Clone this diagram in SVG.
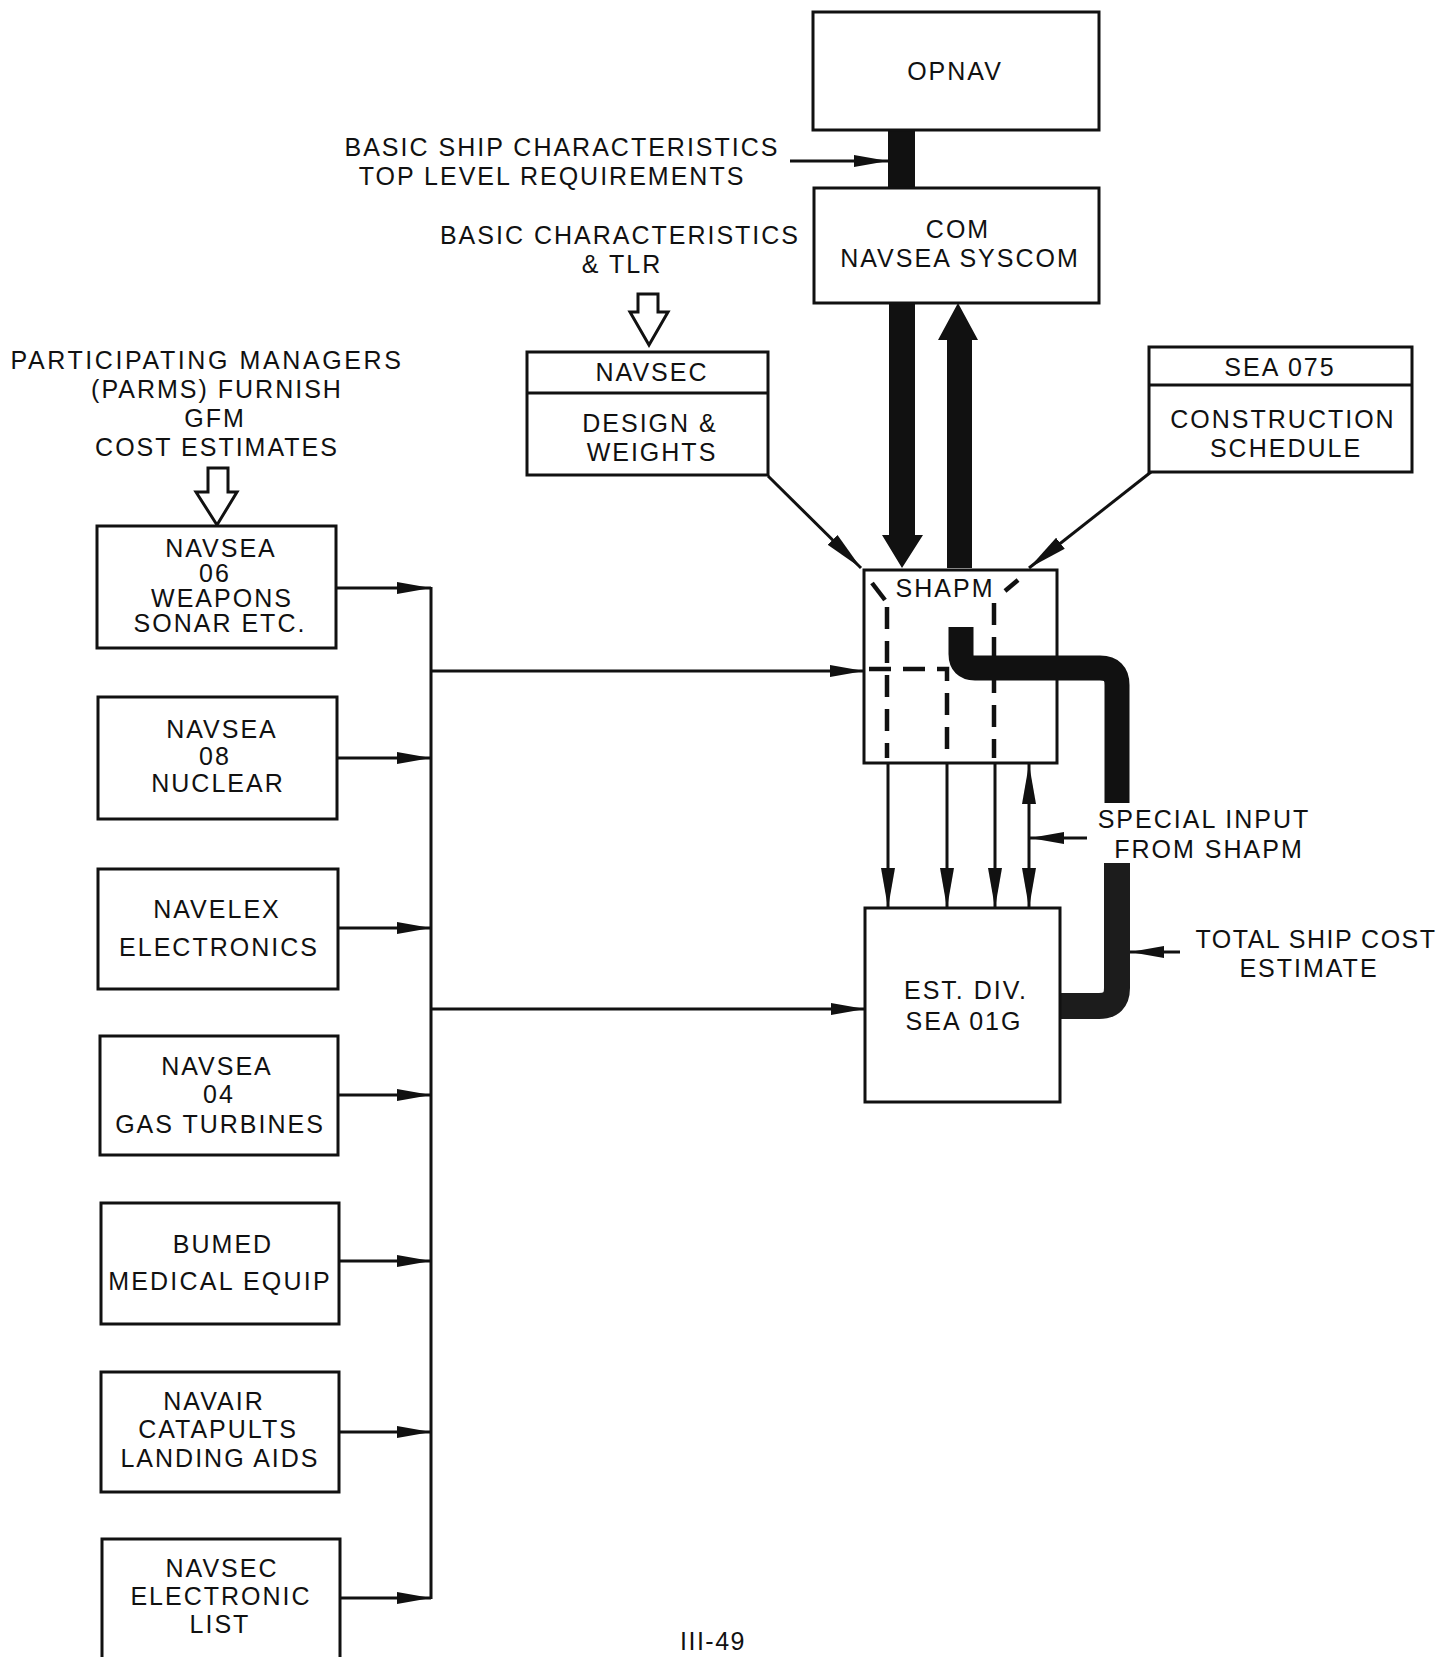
<svg xmlns="http://www.w3.org/2000/svg" width="1446" height="1657" viewBox="0 0 1446 1657">
<style>
.box{fill:#fff;stroke:#111;stroke-width:3}
.t{font-family:"Liberation Sans",Arial,sans-serif;font-size:25px;letter-spacing:2px;fill:#111;text-anchor:middle}
.ln{stroke:#111;stroke-width:3;fill:none}
.dash{stroke:#111;stroke-width:4.5;fill:none;stroke-dasharray:22 12}
.solid{fill:#111;stroke:none}
.hollow{fill:#fff;stroke:#111;stroke-width:3;stroke-linejoin:miter}
</style>
<defs>
<marker id="ah" markerUnits="userSpaceOnUse" markerWidth="36" markerHeight="14" refX="34" refY="7" orient="auto">
<path d="M0,1 L34,7 L0,13 Z" fill="#111"/>
</marker>
<marker id="ahv" markerUnits="userSpaceOnUse" markerWidth="42" markerHeight="16" refX="40" refY="8" orient="auto">
<path d="M0,1 L40,8 L0,15 Z" fill="#111"/>
</marker>
<marker id="ahs" markerUnits="userSpaceOnUse" markerWidth="42" markerHeight="16" refX="40" refY="8" orient="auto-start-reverse">
<path d="M0,1 L40,8 L0,15 Z" fill="#111"/>
</marker>
</defs>
<rect width="1446" height="1657" fill="#fff"/>

<g id="connectors">
  <rect class="solid" x="888" y="129" width="27" height="60"/>
  <line class="ln" x1="790" y1="161" x2="888" y2="161" marker-end="url(#ah)"/>
  <polygon class="solid" points="889,303 915,303 915,535 923,535 902,568 882,535 889,535"/>
  <polygon class="solid" points="947,568 972,568 972,340 978,340 958,303 938,340 947,340"/>
  <polygon class="hollow" points="638,294 658,294 658,312 668,312 649,345 630,312 638,312"/>
  <polygon class="hollow" points="208,468 228,468 228,492 237,492 217,525 196,492 208,492"/>
  <line class="ln" x1="768" y1="476" x2="861" y2="568" marker-end="url(#ahv)"/>
  <line class="ln" x1="1151" y1="472" x2="1029" y2="568" marker-end="url(#ahv)"/>
  <line class="ln" x1="431" y1="587" x2="431" y2="1599"/>
  <line class="ln" x1="336" y1="588" x2="431" y2="588" marker-end="url(#ah)"/>
  <line class="ln" x1="337" y1="758" x2="431" y2="758" marker-end="url(#ah)"/>
  <line class="ln" x1="338" y1="928" x2="431" y2="928" marker-end="url(#ah)"/>
  <line class="ln" x1="338" y1="1095" x2="431" y2="1095" marker-end="url(#ah)"/>
  <line class="ln" x1="339" y1="1261" x2="431" y2="1261" marker-end="url(#ah)"/>
  <line class="ln" x1="339" y1="1432" x2="431" y2="1432" marker-end="url(#ah)"/>
  <line class="ln" x1="340" y1="1598" x2="431" y2="1598" marker-end="url(#ah)"/>
  <line class="ln" x1="431" y1="671" x2="864" y2="671" marker-end="url(#ah)"/>
  <line class="ln" x1="431" y1="1009" x2="865" y2="1009" marker-end="url(#ah)"/>
  <line class="ln" x1="888" y1="763" x2="888" y2="908" marker-end="url(#ahv)"/>
  <line class="ln" x1="947" y1="763" x2="947" y2="908" marker-end="url(#ahv)"/>
  <line class="ln" x1="995" y1="763" x2="995" y2="908" marker-end="url(#ahv)"/>
  <line class="ln" x1="1029" y1="764" x2="1029" y2="908" marker-start="url(#ahs)" marker-end="url(#ahv)"/>
  <line class="ln" x1="1087" y1="838" x2="1030" y2="838" marker-end="url(#ah)"/>
  <line class="ln" x1="1180" y1="952" x2="1130" y2="952" marker-end="url(#ah)"/>
</g>

<g id="opnav">
  <rect class="box" x="813" y="12" width="286" height="118"/>
  <text class="t" x="955" y="80">OPNAV</text>
</g>
<g id="com-navsea">
  <rect class="box" x="814" y="188" width="285" height="115"/>
  <text class="t" x="958" y="238">COM</text>
  <text class="t" x="960" y="267">NAVSEA SYSCOM</text>
</g>
<g id="label-basic-ship">
  <text class="t" x="562" y="156">BASIC SHIP CHARACTERISTICS</text>
  <text class="t" x="552" y="185">TOP LEVEL REQUIREMENTS</text>
</g>
<g id="label-basic-char">
  <text class="t" x="620" y="244">BASIC CHARACTERISTICS</text>
  <text class="t" x="622" y="273">&amp; TLR</text>
</g>
<g id="navsec-design">
  <rect class="box" x="527" y="352" width="241" height="123"/>
  <line class="ln" x1="527" y1="393" x2="768" y2="393"/>
  <text class="t" x="652" y="381">NAVSEC</text>
  <text class="t" x="650" y="432">DESIGN &amp;</text>
  <text class="t" x="652" y="461">WEIGHTS</text>
</g>
<g id="sea075">
  <rect class="box" x="1149" y="347" width="263" height="125"/>
  <line class="ln" x1="1149" y1="385" x2="1412" y2="385"/>
  <text class="t" x="1280" y="376">SEA 075</text>
  <text class="t" x="1283" y="428">CONSTRUCTION</text>
  <text class="t" x="1286" y="457">SCHEDULE</text>
</g>
<g id="label-parms">
  <text class="t" x="207" y="369" style="letter-spacing:2.6px">PARTICIPATING MANAGERS</text>
  <text class="t" x="217" y="398">(PARMS) FURNISH</text>
  <text class="t" x="215" y="427">GFM</text>
  <text class="t" x="217" y="456">COST ESTIMATES</text>
</g>
<g id="shapm">
  <rect class="box" x="864" y="570" width="193" height="193"/>
  <text class="t" x="945" y="597">SHAPM</text>
  <line x1="872" y1="583" x2="885" y2="600" stroke="#111" stroke-width="4.5"/>
  <line x1="1005" y1="591" x2="1018" y2="580" stroke="#111" stroke-width="4.5"/>
  <path class="dash" d="M887,607 V758"/>
  <path class="dash" d="M869,669 H947 V758"/>
  <path class="dash" d="M994,603 V758"/>
</g>
<g id="special-input">
  <path d="M961,627 V654 Q961,668 975,668 H1100 Q1117,668 1117,685 V803" fill="none" stroke="#111" stroke-width="25"/>
  <text class="t" x="1204" y="828">SPECIAL INPUT</text>
  <text class="t" x="1209" y="858">FROM SHAPM</text>
  <path d="M1117,863 V988 Q1117,1006 1099,1006 H1058" fill="none" stroke="#1c1c1c" stroke-width="26"/>
</g>
<g id="est-div">
  <rect class="box" x="865" y="908" width="195" height="194"/>
  <text class="t" x="966" y="999">EST. DIV.</text>
  <text class="t" x="964" y="1030">SEA 01G</text>
</g>
<g id="label-total">
  <text class="t" x="1316" y="948" style="letter-spacing:1.5px">TOTAL SHIP COST</text>
  <text class="t" x="1309" y="977">ESTIMATE</text>
</g>
<g id="navsea06">
  <rect class="box" x="97" y="526" width="239" height="122"/>
  <text class="t" x="221" y="557">NAVSEA</text>
  <text class="t" x="215" y="582">06</text>
  <text class="t" x="222" y="607">WEAPONS</text>
  <text class="t" x="220" y="632">SONAR ETC.</text>
</g>
<g id="navsea08">
  <rect class="box" x="98" y="697" width="239" height="122"/>
  <text class="t" x="222" y="738">NAVSEA</text>
  <text class="t" x="215" y="765">08</text>
  <text class="t" x="218" y="792">NUCLEAR</text>
</g>
<g id="navelex">
  <rect class="box" x="98" y="869" width="240" height="120"/>
  <text class="t" x="217" y="918">NAVELEX</text>
  <text class="t" x="219" y="956">ELECTRONICS</text>
</g>
<g id="navsea04">
  <rect class="box" x="100" y="1036" width="238" height="119"/>
  <text class="t" x="217" y="1075">NAVSEA</text>
  <text class="t" x="219" y="1103">04</text>
  <text class="t" x="220" y="1133">GAS TURBINES</text>
</g>
<g id="bumed">
  <rect class="box" x="101" y="1203" width="238" height="121"/>
  <text class="t" x="223" y="1253">BUMED</text>
  <text class="t" x="220" y="1290" style="letter-spacing:2.2px">MEDICAL EQUIP</text>
</g>
<g id="navair">
  <rect class="box" x="101" y="1372" width="238" height="120"/>
  <text class="t" x="214" y="1410">NAVAIR</text>
  <text class="t" x="218" y="1438">CATAPULTS</text>
  <text class="t" x="220" y="1467">LANDING AIDS</text>
</g>
<g id="navsec-electronic">
  <rect class="box" x="102" y="1539" width="238" height="140"/>
  <text class="t" x="222" y="1577">NAVSEC</text>
  <text class="t" x="221" y="1605">ELECTRONIC</text>
  <text class="t" x="220" y="1633">LIST</text>
</g>
<text class="t" x="713" y="1650" style="font-size:25px;letter-spacing:1.5px">III-49</text>
</svg>
